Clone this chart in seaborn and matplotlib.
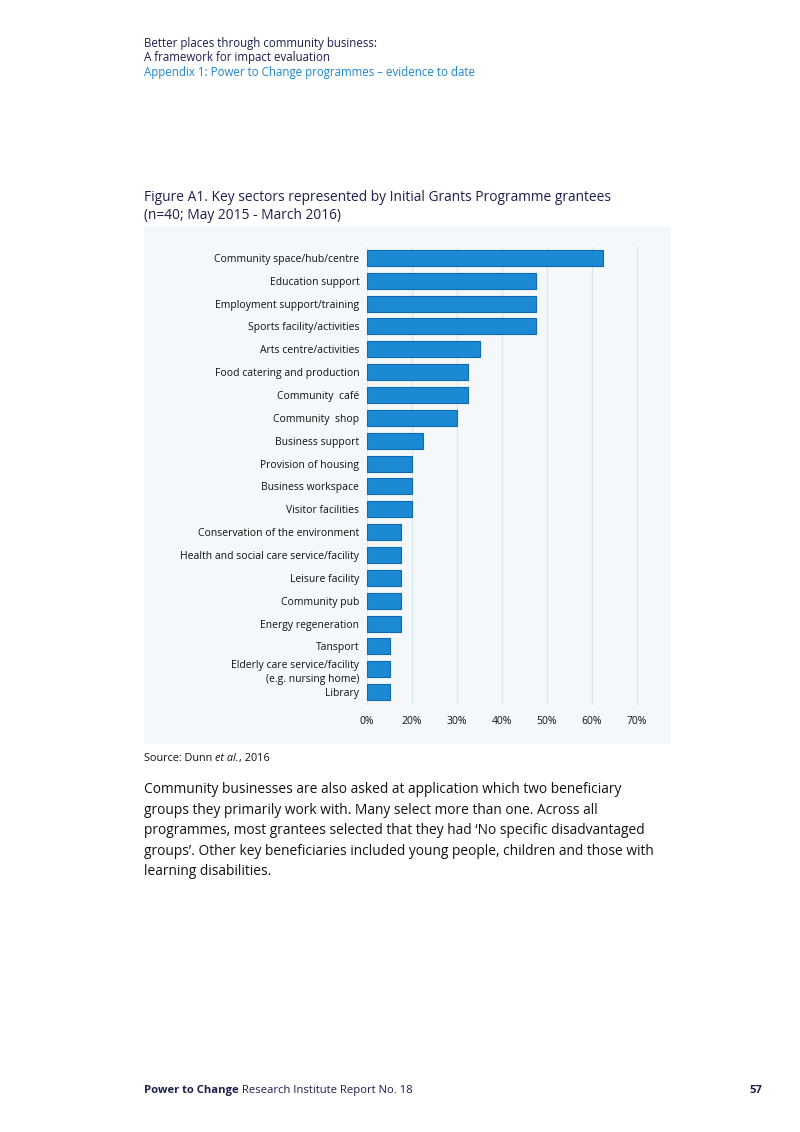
import matplotlib
matplotlib.use("Agg")
import matplotlib.pyplot as plt
import seaborn as sns
import pandas as pd
from matplotlib.patches import Rectangle

categories = [
    "Community space/hub/centre", "Education support", "Employment support/training",
    "Sports facility/activities", "Arts centre/activities", "Food catering and production",
    "Community  café", "Community  shop", "Business support", "Provision of housing",
    "Business workspace", "Visitor facilities", "Conservation of the environment",
    "Health and social care service/facility", "Leisure facility", "Community pub",
    "Energy regeneration", "Tansport", "Elderly care service/facility\n(e.g. nursing home)",
    "Library",
]
values = [52.5, 37.5, 37.5, 37.5, 25, 22.5, 22.5, 20, 12.5, 10, 10, 10,
          7.5, 7.5, 7.5, 7.5, 7.5, 5, 5, 5]
tick_values = [0, 10, 20, 30, 40, 50, 60]
tick_labels = ["0%", "20%", "30%", "40%", "50%", "60%", "70%"]

sns.set_theme(style="white")
plt.rcParams["font.family"] = ["Open Sans", "DejaVu Sans"]

W, H = 800, 1132
fig = plt.figure(figsize=(8, 11.32), dpi=100)
fig.patch.set_facecolor("white")

navy = "#1c1f4f"
blue = "#1c89d3"
panel = "#f4f8fa"
ink = "#111111"

def fx(px): return px / W
def fy(py): return 1 - py / H

# panel background
fig.patches.append(Rectangle((fx(144), fy(744)), fx(671) - fx(144), (744 - 226) / H,
                             transform=fig.transFigure, facecolor=panel, edgecolor="none", zorder=-5))

ax = fig.add_axes([fx(367), fy(703.5), fx(637) - fx(367), (703.5 - 246.5) / H])
ax.set_zorder(2)
ax.set_facecolor("none")
df = pd.DataFrame({"category": categories, "value": values})
sns.barplot(data=df, x="value", y="category", color=blue, saturation=1, width=0.7,
            edgecolor="#0d6ab3", linewidth=0.8, ax=ax, zorder=3)
ax.set_xlim(0, 60)
ax.set_xticks(tick_values)
ax.set_xticklabels(tick_labels)
ax.set_xlabel("")
ax.set_ylabel("")
for v in tick_values:
    ax.axvline(v, color="#d9e6ea", lw=0.9, zorder=1, clip_on=False)
for s in ax.spines.values():
    s.set_visible(False)
ax.tick_params(axis="both", length=0, labelsize=7.5, colors=ink)
ax.tick_params(axis="y", pad=5.5)
ax.tick_params(axis="x", pad=9)
for lbl in ax.get_yticklabels():
    lbl.set_multialignment("right")
    lbl.set_linespacing(1.35)

# header
fig.text(fx(144), fy(43.5), "Better places through community business:", fontsize=8.3,
         color=navy, va="center", ha="left")
fig.text(fx(144), fy(58), "A framework for impact evaluation", fontsize=8.3,
         color=navy, va="center", ha="left")
fig.text(fx(144), fy(72.5), "Appendix 1: Power to Change programmes \u2013 evidence to date",
         fontsize=8.3, color="#1f86cf", va="center", ha="left")

# title
fig.text(fx(144), fy(197.5), "Figure A1. Key sectors represented by Initial Grants Programme grantees",
         fontsize=9.92, color=navy, va="center", ha="left")
fig.text(fx(144), fy(215.5), "(n=40; May 2015 - March 2016)",
         fontsize=9.92, color=navy, va="center", ha="left")

# source (pieces laid out on a common baseline)
fig.canvas.draw()
r = fig.canvas.get_renderer()
xcur = 144
ybase = fy(761)
for txt, st in [("Source: Dunn ", "normal"), ("et al.", "italic"), (", 2016", "normal")]:
    t = fig.text(fx(xcur), ybase, txt, fontsize=7.85, color=ink, style=st,
                 va="baseline", ha="left")
    xcur = t.get_window_extent(r).x1

# body text
body = [
    "Community businesses are also asked at application which two beneficiary",
    "groups they primarily work with. Many select more than one. Across all",
    "programmes, most grantees selected that they had \u2018No specific disadvantaged",
    "groups\u2019. Other key beneficiaries included young people, children and those with",
    "learning disabilities.",
]
for i, line in enumerate(body):
    fig.text(fx(144), fy(789.5 + i * 20.6), line, fontsize=9.9, color=ink,
             va="center", ha="left")

# footer
xcur = 144
for txt, wt in [("Power to Change", "bold"), (" Research Institute Report No. 18", "normal")]:
    t = fig.text(fx(xcur), fy(1093), txt, fontsize=8.1, color=navy, weight=wt,
                 va="baseline", ha="left")
    xcur = t.get_window_extent(r).x1
fig.text(fx(762), fy(1093), "57", fontsize=8.1, color=navy, weight="bold",
         va="baseline", ha="right")

fig.savefig("out.png", dpi=100)
